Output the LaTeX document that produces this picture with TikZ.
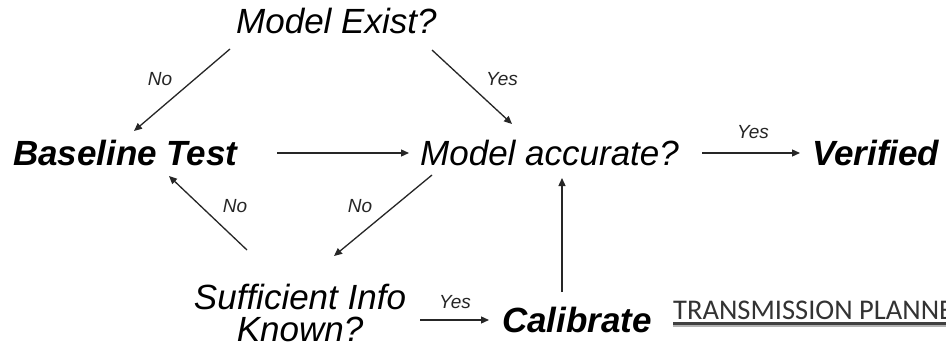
\documentclass[tikz,border=0pt]{standalone}
\usepackage{fontspec}
\setmainfont{Liberation Sans}
\newfontfamily\calibfont{Carlito}
\usetikzlibrary{arrows.meta}
\begin{document}
\begin{tikzpicture}[x=1pt,y=-1pt,
  bigit/.style={inner sep=0pt,anchor=base west,font=\fontsize{35}{35}\selectfont\itshape},
  bigbf/.style={inner sep=0pt,anchor=base west,font=\fontsize{35}{35}\selectfont\bfseries\itshape},
  lbl/.style={inner sep=0pt,anchor=base,font=\fontsize{19}{19}\selectfont\itshape,text=black!85},
  arr/.style={line width=1.3pt,draw=black!85,-{Triangle[length=8pt,width=7pt]}}]
\useasboundingbox[fill=white] (0,0) rectangle (946,348);
% nodes
\node[bigit] (ME) at (236,33) {Model Exist?};
\node[bigbf] (BT) at (13,165) {Baseline Test};
\node[bigit] (MA) at (420,165) {Model accurate?};
\node[bigbf] (VF) at (812,165) {Verified};
\node[inner sep=0pt,anchor=base,align=center,font=\fontsize{35}{32}\selectfont\itshape] (SI) at (300,341) {Sufficient Info\\Known?};
\node[bigbf] (CA) at (502,332) {Calibrate};
\node[inner sep=0pt,anchor=base west,font=\fontsize{28.5}{28.5}\selectfont\calibfont,text=black!80] (TP) at (673,319) {TRANSMISSION PLANNER};
\draw[line width=2.6pt,draw=black!75] ([yshift=-4.5pt]TP.base west) -- ([yshift=-4.5pt]TP.base east);
\draw[line width=1.6pt,draw=black!30] ([yshift=-7pt]TP.base west) -- ([yshift=-7pt]TP.base east);
% connector end points
\coordinate (a1s) at (230,49);  \coordinate (a1e) at (134,131);
\coordinate (a2s) at (432,50);  \coordinate (a2e) at (512,124);
\coordinate (a3s) at (277,153); \coordinate (a3e) at (409,153);
\coordinate (a4s) at (702,153); \coordinate (a4e) at (800,153);
\coordinate (a5s) at (432,175); \coordinate (a5e) at (334,256);
\coordinate (a6s) at (247,250); \coordinate (a6e) at (169,176);
\coordinate (a7s) at (420,320); \coordinate (a7e) at (489,320);
\coordinate (a8s) at (562,292); \coordinate (a8e) at (562,178);
% connectors
\draw[arr] (a1s) -- (a1e);
\draw[arr] (a2s) -- (a2e);
\draw[arr] (a3s) -- (a3e);
\draw[arr] (a4s) -- (a4e);
\draw[arr] (a5s) -- (a5e);
\draw[arr] (a6s) -- (a6e);
\draw[arr] (a7s) -- (a7e);
\draw[arr] (a8s) -- (a8e);
% labels
\node[lbl] (l1) at (160,85) {No};
\node[lbl] (l2) at (502,85) {Yes};
\node[lbl] (l3) at (753,138) {Yes};
\node[lbl] (l4) at (235,212) {No};
\node[lbl] (l5) at (360,212) {No};
\node[lbl] (l6) at (455,308) {Yes};
\end{tikzpicture}
\end{document}
